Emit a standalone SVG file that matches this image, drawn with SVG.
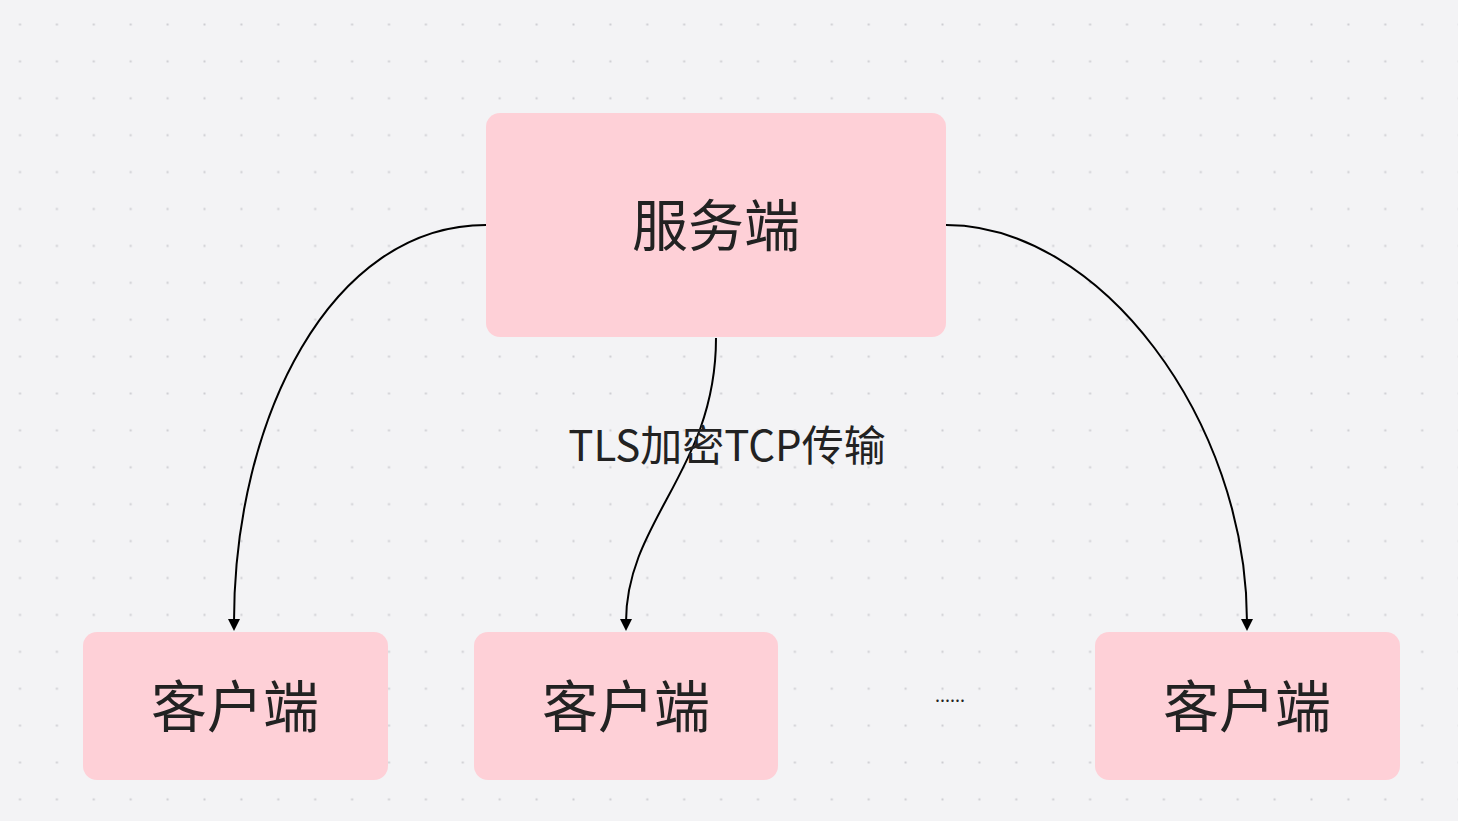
<svg xmlns="http://www.w3.org/2000/svg" width="1458" height="821" viewBox="0 0 1458 821">
<style>
.node rect{fill:#fed0d7;}
.lbl{font-family:"Noto Sans CJK SC","Noto Sans",sans-serif;fill:#222;text-anchor:middle;}
.big{font-size:56px;}
.edge{fill:none;stroke:#000;stroke-width:2;}
.head{fill:#000;}
</style>
<defs>
<pattern id="dots" x="18.5" y="23" width="36.9" height="36.9" patternUnits="userSpaceOnUse">
<rect x="0.5" y="0.5" width="2" height="2" fill="#cdcdd2"/>
</pattern>
</defs>
<rect width="1458" height="821" fill="#f3f3f5"/>
<rect width="1458" height="821" fill="url(#dots)"/>
<g id="connectors">
<path class="edge" d="M486 225 C330 225 234 420 234 622"/>
<path class="edge" d="M716 338 C716 470 626 520 626 622"/>
<path class="edge" d="M946 225 C1100 225 1247 420 1247 622"/>
<path class="head" d="M228 619 L240 619 L234 631 Z"/>
<path class="head" d="M620 619 L632 619 L626 631 Z"/>
<path class="head" d="M1241 619 L1253 619 L1247 631 Z"/>
<text class="lbl" x="727" y="461" font-size="42">TLS加密TCP传输</text>
</g>
<g id="server" class="node">
<rect x="486" y="113" width="460" height="224" rx="14"/>
<text class="lbl big" x="716" y="246">服务端</text>
</g>
<g id="client1" class="node">
<rect x="83" y="632" width="305" height="148" rx="14"/>
<text class="lbl big" x="235" y="727">客户端</text>
</g>
<g id="client2" class="node">
<rect x="474" y="632" width="304" height="148" rx="14"/>
<text class="lbl big" x="626" y="727">客户端</text>
</g>
<g id="client3" class="node">
<rect x="1095" y="632" width="305" height="148" rx="14"/>
<text class="lbl big" x="1247" y="727">客户端</text>
</g>
<g id="ellipsis">
<text class="lbl" x="950" y="702" font-size="18">......</text>
</g>
</svg>
